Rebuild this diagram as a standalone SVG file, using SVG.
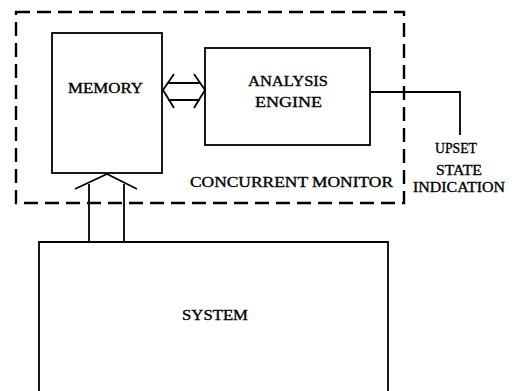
<svg xmlns="http://www.w3.org/2000/svg" width="515" height="391" viewBox="0 0 515 391">
<style>
.box{fill:none;stroke:#000;stroke-width:1.8}
.dash{fill:none;stroke:#000;stroke-width:2.4;stroke-dasharray:14 7}
.ln{fill:none;stroke:#000;stroke-width:1.8;stroke-linejoin:miter}
text{font-family:"Liberation Serif","Times New Roman",serif;font-size:15px;fill:#000;stroke:#000;stroke-width:0.35}
</style>
<rect width="515" height="391" fill="#fff"/>
<g id="monitor">
<rect class="dash" x="16" y="12" width="388" height="191"/>
<text x="190" y="187" textLength="203" lengthAdjust="spacingAndGlyphs">CONCURRENT MONITOR</text>
</g>
<g id="memory">
<rect class="box" x="52" y="33" width="110" height="140"/>
<text x="68" y="93" textLength="75" lengthAdjust="spacingAndGlyphs">MEMORY</text>
</g>
<g id="engine">
<rect class="box" x="205" y="48" width="165" height="97"/>
<text x="248" y="86" textLength="80" lengthAdjust="spacingAndGlyphs">ANALYSIS</text>
<text x="255" y="107" textLength="67" lengthAdjust="spacingAndGlyphs">ENGINE</text>
</g>
<g id="system">
<path class="box" d="M39,400 V242 H388 V400"/>
<text x="182" y="320" textLength="66" lengthAdjust="spacingAndGlyphs">SYSTEM</text>
</g>
<g id="upset">
<text x="435" y="153" textLength="42" lengthAdjust="spacingAndGlyphs">UPSET</text>
<text x="436" y="175" textLength="46" lengthAdjust="spacingAndGlyphs">STATE</text>
<text x="413" y="192" textLength="92" lengthAdjust="spacingAndGlyphs">INDICATION</text>
</g>
<g id="connectors">
<path class="ln" d="M174,74 L163,90 L174,108"/>
<path class="ln" d="M194,74 L205,90 L194,108"/>
<path class="ln" d="M168,83 H200 M168,100 H200"/>
<path class="ln" d="M75,189 L107,174 L137,189"/>
<path class="ln" d="M89,184 V242 M124,184 V242"/>
<path class="ln" d="M370,92 H460 V135"/>
</g>
</svg>
